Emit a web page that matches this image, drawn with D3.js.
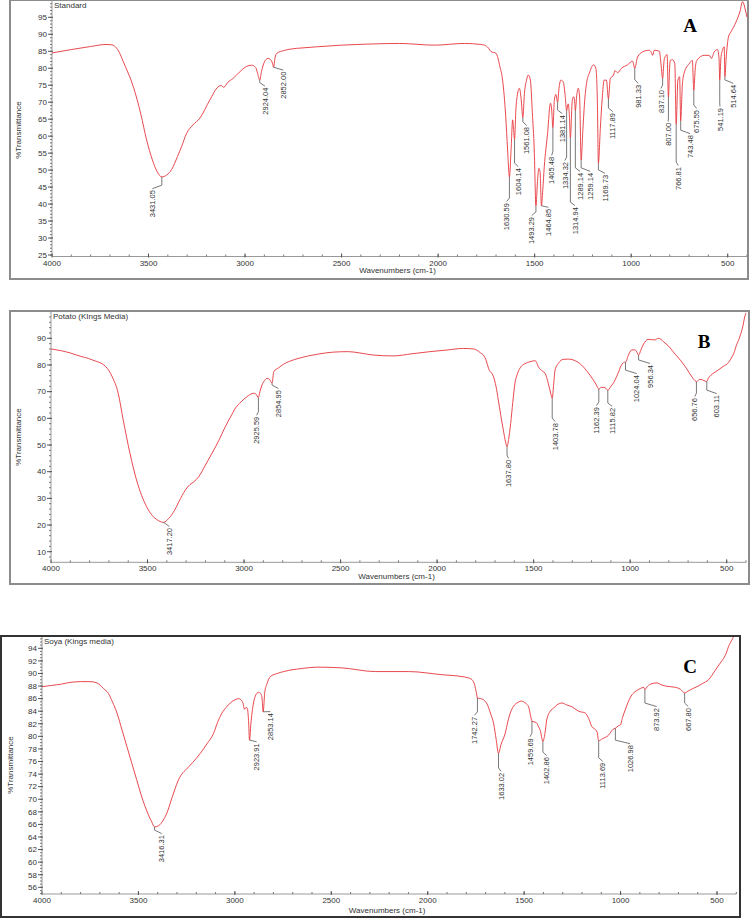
<!DOCTYPE html>
<html>
<head>
<meta charset="utf-8">
<script src="https://cdn.jsdelivr.net/npm/d3@7"></script>
<style>
body{margin:0;background:#fff;}
svg{display:block;font-family:"Liberation Sans",Arial,sans-serif;}
</style>
</head>
<body>
<svg id="chart" width="750" height="918"></svg>
<script>
// FTIR spectra, [wavenumber cm-1, %T]
var specA = [[4000,84.5],[3900,85.5],[3800,86.4],[3720,87],[3690,86.9],[3665,85.9],[3620,80.5],[3579,74.6],[3540,66.5],[3510,58.9],[3480,53],[3455,49.5],[3431.05,48],[3405,48.6],[3380,50.2],[3350,54],[3329,56.9],[3303,60.8],[3270,63.3],[3234,65.3],[3183,70.6],[3140,74.5],[3125,74.9],[3110,74.4],[3090,75.8],[3062,77],[3030,78.8],[2993,80.5],[2965,80.9],[2945,80.2],[2935,78.5],[2924.04,76.5],[2915,79],[2900,81.8],[2881,82.9],[2866,82.4],[2858,81.5],[2852,80.3],[2845,83],[2835,84.4],[2800,85.2],[2769,85.6],[2700,86],[2631,86.3],[2500,86.8],[2372,87.1],[2200,87.3],[2019,86.8],[1864,87.3],[1780,87],[1760,86.8],[1740,86],[1726,84.9],[1700,84.4],[1680,80.5],[1666,76.5],[1650,66],[1640,55.9],[1630.59,48],[1622,56],[1614,64.8],[1609,62],[1604.14,59],[1597,68],[1591,71.6],[1579,74.1],[1570,71],[1561.08,65.5],[1553,72.5],[1542,76.5],[1533,78],[1522,76.5],[1512,67],[1502,55.9],[1493.29,39.5],[1485,47],[1478,50.5],[1472,49.5],[1464.85,39.5],[1458,44],[1450,51],[1433,60.8],[1418,69.7],[1412,68],[1405.48,62.5],[1398,70.5],[1390,72.3],[1381.14,70],[1373,74.5],[1364,76.5],[1352,76],[1342,72],[1334.32,67.5],[1326,69.5],[1320,66],[1314.94,59.5],[1305,70.5],[1298,71.6],[1294,71],[1289.14,67.5],[1282,72],[1274,74.1],[1267,71.5],[1259.14,53],[1250,62],[1240,71],[1230,76],[1217,78.5],[1195,81],[1183,80],[1175,70],[1169.73,52],[1160,62],[1150,71],[1140,76.5],[1128,76.5],[1117.89,71],[1108,77],[1091,78],[1084,79.3],[1070,78.7],[1050,80],[1019,81],[993,82.1],[981.33,80],[967,83.3],[941,84.8],[907,85.3],[895,84.6],[889,83.8],[880,85.3],[854,85],[845,81],[837.1,77],[830,82],[827,83],[814,84],[807,71.5],[800,81],[797,82.3],[785,82.5],[774,81.3],[766.81,63.5],[758,76.5],[749,77.5],[743.48,64.5],[735,75],[726,78.5],[700,81.3],[683,82.3],[675.55,73.5],[668,80],[660,82.3],[622,83.8],[596,83.8],[584,82.9],[570,84.8],[553,85.5],[545,83],[541.19,76.5],[535,83],[527,85.3],[518,86.3],[514.64,77.5],[508,83],[496,89.2],[483,90.7],[457,93.6],[435,97],[424,99.6],[418,99.2],[412,98],[400,95]];

var specB = [[4000,86],[3900,84.5],[3867,83.7],[3786,81.9],[3717,79.4],[3683,75.6],[3652,69.4],[3626,59.4],[3591,46.9],[3557,36.9],[3530,31],[3505,26.9],[3475,23.5],[3453,22.1],[3417.2,21],[3390,22.5],[3360,25.5],[3338,28.7],[3304,33.1],[3280,35.2],[3260,36.2],[3235,38.1],[3200,42.5],[3166,46.9],[3130,51.8],[3097,56.9],[3070,60.5],[3045,63.8],[3015,66.2],[2985,68.1],[2950,69.4],[2940,69.2],[2925.59,67.8],[2918,70],[2907,72.5],[2892,74.3],[2881,75],[2868,74.6],[2854.95,73.2],[2846,77.5],[2820,79],[2802,80],[2760,81.5],[2717,82.5],[2614,84.1],[2540,84.8],[2459,85],[2400,84.5],[2329,83.7],[2226,83.4],[2130,84.2],[2036,85],[1950,85.6],[1864,86.2],[1810,86],[1795,85.6],[1775,84.5],[1760,83.7],[1745,81.5],[1734,78.8],[1708,75.6],[1695,72],[1683,66.9],[1670,61],[1657,55.6],[1645,51],[1637.8,49.3],[1630,52],[1619,58.1],[1608,66],[1597,73.1],[1585,76.5],[1571,78.8],[1545,80.5],[1519,81.2],[1493,81.6],[1485,81],[1476,79.4],[1460,78],[1441,76.9],[1424,73.1],[1412,69.5],[1403.78,67.5],[1396,73],[1389,78.1],[1370,80.8],[1347,82.1],[1320,82.2],[1295,81.9],[1270,81],[1252,80],[1220,77.3],[1191,74.4],[1175,72.5],[1162.39,71],[1150,71.6],[1136,71.6],[1125,71.2],[1115.82,70.5],[1100,72],[1088,73.1],[1065,76.5],[1045,80],[1030,81],[1024.04,81],[1010,83.5],[993,85.6],[976,85.7],[965,84.8],[956.34,83.7],[945,85.5],[933,87.5],[907,89.6],[872,89.4],[855,90],[840,89.6],[829,88.8],[800,87],[778,85],[740,81.8],[709,78.8],[680,75.5],[659,73.8],[656.76,73.7],[640,74.6],[625,74.4],[610,73.9],[603.11,73.8],[595,75],[581,76.2],[550,77.8],[519,79.4],[490,81],[477,82.5],[460,85],[452,86.9],[435,90],[417,94.3],[405,98.5],[400,99.5]];

var specC = [[4000,87.9],[3950,88.1],[3900,88.3],[3870,88.5],[3801,88.7],[3750,88.7],[3715,88.5],[3681,87.6],[3655,86.8],[3635,85.5],[3611,83.7],[3585,81],[3560,78.4],[3535,75.8],[3509,73.1],[3487,70.8],[3465,68.8],[3445,67.3],[3431,66.4],[3416.31,65.6],[3395,65.8],[3371,66.7],[3350,68],[3335,69.4],[3312,71.5],[3292,73.1],[3270,74.2],[3257,74.6],[3220,75.8],[3179,77.3],[3145,78.8],[3110,80.5],[3090,82.2],[3067,83.7],[3045,84.6],[3024,85.3],[3000,85.8],[2981,86],[2965,85.7],[2958,85.3],[2950,84.3],[2942,84.6],[2935,84.4],[2929,82.5],[2923.91,79.4],[2917,82],[2905,85],[2894,86.4],[2877,87],[2866,86.8],[2860,86.3],[2853.14,83.9],[2845,87],[2833,88.4],[2816,89.5],[2780,90],[2747,90.3],[2650,90.8],[2574,91],[2450,90.9],[2272,90.3],[2099,90.3],[1926,89.8],[1822,89.5],[1790,89.3],[1770,89],[1757,88.2],[1748,87],[1742.27,86.1],[1725,86],[1710,85.8],[1690,85],[1675,83.7],[1658,82],[1645,79.5],[1633.02,77.3],[1620,78.7],[1598,80.5],[1585,82.3],[1572,83.7],[1555,84.8],[1537,85.3],[1515,85.6],[1503,85.5],[1490,85.2],[1477,84.7],[1468,83.5],[1459.69,82.4],[1437,82.2],[1425,81.5],[1417,81],[1402.86,79.2],[1392,80.5],[1383,82.6],[1365,84],[1347,84.5],[1330,85],[1304,85.3],[1280,85],[1252,84.7],[1218,84],[1183,83.7],[1165,82.8],[1148,81.5],[1135,81.2],[1122,80.7],[1113.69,79.3],[1095,79.6],[1062,80.2],[1040,81.1],[1026.98,81.3],[1010,81.7],[1001,81.8],[990,83],[976,84.2],[960,85.5],[941,86.6],[920,87.2],[898,87.6],[880,87.8],[873.92,87.4],[865,87.8],[845,88.3],[811,88.5],[790,88.2],[768,88],[716,87.8],[690,87.5],[667.8,86.9],[650,87.2],[625,87.6],[604,87.9],[575,88.4],[544,89],[509,90.5],[480,91.8],[466,92.4],[450,93.4],[440,94.3],[425,95.2],[414,95.9],[400,97]];

// peak labels: [wavenumber, %T at peak, label wavenumber, label top %T]
var peaksA = [[3431.05,48,3480,44.1],[2924.04,76.5,2897,74.3],[2852.00,80.3,2802,79.0],[1630.59,48,1645,40.3],[1604.14,59,1585,50.6],[1561.08,65.5,1541,62.7],[1493.29,39.5,1515,36.2],[1464.85,39.5,1429,38.6],[1405.48,62.5,1412,53.9],[1381.14,70,1357,66.2],[1334.32,67.5,1343,52.4],[1314.94,59.5,1291,39.1],[1289.14,67.5,1265,49.2],[1259.14,53,1213,49.2],[1169.73,52,1136,48.6],[1117.89,71,1096,66.8],[981.33,80,963,75.1],[837.10,77,846,73.6],[807.00,71.5,808,63.9],[766.81,63.5,756,50.9],[743.48,64.5,695,60.3],[675.55,73.5,661,67.7],[541.19,76.5,540,68.3],[514.64,77.5,471,75.1]];
var peaksB = [[3417.20,21,3387,18.9],[2925.59,67.8,2935,60.6],[2854.95,73.2,2822,70.6],[1637.80,49.3,1631,44.4],[1403.78,67.5,1389,58.2],[1162.39,71,1175,64.2],[1115.82,70.5,1093,63.9],[1024.04,81,966,76.2],[956.34,83.7,897,80],[656.76,73.7,665,67.6],[603.11,73.8,552,68.7]];
var peaksC = [[3416.31,65.6,3379,64.3],[2923.91,79.4,2887,78.9],[2853.14,83.9,2816,83.7],[1742.27,86.1,1758,83.1],[1633.02,77.3,1620,74.2],[1459.69,82.4,1470,79.7],[1402.86,79.2,1383,76.7],[1113.69,79.3,1093,75.8],[1026.98,81.3,951,78.6],[873.92,87.4,813,84.5],[667.80,86.9,649,84.5]];

var titles = ["Standard", "Potato (KIngs Media)", "Soya (Kings media)"];
var letters = ["A", "B", "C"];
var xMajor = [4000,3500,3000,2500,2000,1500,1000,500];
var yTicksA = [25,30,35,40,45,50,55,60,65,70,75,80,85,90,95];
var yTicksB = [10,20,30,40,50,60,70,80,90];
var yTicksC = [56,58,60,62,64,66,68,70,72,74,76,78,80,82,84,86,88,90,92,94];

var svg = d3.select("#chart");

var panels = [
  {spec:specA, peaks:peaksA, yTicks:yTicksA, minorStep:1, frame:[10,0,748,279], frameColor:"#8c8c8c",
   x0:52, x1:747, top:1, bottom:256.5, yDom:[25,95], yRng:[255,17.3], yLab:[18,130], letter:[690,32], xTitleY:273},
  {spec:specB, peaks:peaksB, yTicks:yTicksB, minorStep:2, frame:[10,311,749,584], frameColor:"#8c8c8c",
   x0:51, x1:746, top:312, bottom:562.3, yDom:[10,90], yRng:[551.7,338.3], yLab:[18,437], letter:[704,348], xTitleY:579},
  {spec:specC, peaks:peaksC, yTicks:yTicksC, minorStep:0.5, frame:[1,636,740,917], frameColor:"#333",
   x0:42, x1:736.3, top:637, bottom:894, yDom:[56,94], yRng:[887.3,648.3], yLab:[10,765], letter:[690,673], xTitleY:913}
];

panels.forEach(function(p, i){
  var g = svg.append("g");
  var f = p.frame;
  g.append("rect").attr("x", f[0]).attr("y", f[1]).attr("width", f[2]-f[0]).attr("height", f[3]-f[1])
    .attr("fill", "#fff").attr("stroke", p.frameColor).attr("stroke-width", 2);

  var x = d3.scaleLinear().domain([4000, 400]).range([p.x0, p.x1]);
  var y = d3.scaleLinear().domain(p.yDom).range(p.yRng);

  // x axis
  var xMinor = d3.range(4000, 399, -100);
  g.append("line").attr("x1", p.x0).attr("x2", p.x1).attr("y1", p.bottom).attr("y2", p.bottom)
    .attr("stroke", "#999").attr("stroke-width", 1);
  g.selectAll(".xmin").data(xMinor).enter().append("line")
    .attr("x1", d => x(d)).attr("x2", d => x(d)).attr("y1", p.bottom).attr("y2", p.bottom-2)
    .attr("stroke", "#777").attr("stroke-width", 1);
  g.selectAll(".xmaj").data(xMajor).enter().append("line")
    .attr("x1", d => x(d)).attr("x2", d => x(d)).attr("y1", p.bottom+1).attr("y2", p.bottom-3)
    .attr("stroke", "#555").attr("stroke-width", 1);
  g.selectAll(".xlab").data(xMajor).enter().append("text")
    .attr("x", d => x(d)).attr("y", p.bottom+9).attr("text-anchor", "middle")
    .attr("font-size", 8).attr("fill", "#333").text(d => d);
  g.append("text").attr("x", (p.x0+p.x1)/2 - 2).attr("y", p.xTitleY).attr("text-anchor", "middle")
    .attr("font-size", 8).attr("fill", "#333").text("Wavenumbers (cm-1)");

  // y axis
  var yMinor = d3.range(p.yDom[0] - 2*p.minorStep, 100.01, p.minorStep)
    .filter(v => y(v) >= p.top && y(v) <= p.bottom);
  g.append("line").attr("x1", p.x0).attr("x2", p.x0).attr("y1", p.top).attr("y2", p.bottom)
    .attr("stroke", "#999").attr("stroke-width", 1);
  g.selectAll(".ymin").data(yMinor).enter().append("line")
    .attr("x1", p.x0).attr("x2", p.x0-2).attr("y1", d => y(d)).attr("y2", d => y(d))
    .attr("stroke", "#777").attr("stroke-width", 1);
  g.selectAll(".ymaj").data(p.yTicks).enter().append("line")
    .attr("x1", p.x0+1).attr("x2", p.x0-4).attr("y1", d => y(d)).attr("y2", d => y(d))
    .attr("stroke", "#555").attr("stroke-width", 1);
  g.selectAll(".ylab").data(p.yTicks).enter().append("text")
    .attr("x", p.x0-5).attr("y", d => y(d)).attr("dy", "0.35em").attr("text-anchor", "end")
    .attr("font-size", 8).attr("fill", "#333").text(d => d);
  g.append("text").attr("transform", "translate(" + p.yLab[0] + "," + p.yLab[1] + ") rotate(-90)")
    .attr("text-anchor", "middle").attr("dy", "0.35em").attr("font-size", 8).attr("fill", "#333")
    .text("%Transmittance");

  g.append("text").attr("x", p.x0+2).attr("y", p.top+7).attr("font-size", 8).attr("fill", "#333").text(titles[i]);

  // spectrum
  var clipId = "clip" + i;
  svg.append("clipPath").attr("id", clipId).append("rect")
    .attr("x", p.x0).attr("y", p.top).attr("width", p.x1-p.x0+1).attr("height", p.bottom-p.top);
  var line = d3.line().x(d => x(d[0])).y(d => y(d[1])).curve(d3.curveMonotoneX);
  g.append("path").datum(p.spec).attr("clip-path", "url(#" + clipId + ")")
    .attr("d", line).attr("fill", "none").attr("stroke", "#e5343a").attr("stroke-width", 0.9);

  // peak labels
  p.peaks.forEach(function(k){
    var px = x(k[0]), py = y(k[1]), lx = x(k[2]), ly = y(k[3]);
    var path = "M" + px + "," + py;
    if (ly - 5 > py + 1) path += "V" + (ly - 5);
    path += "L" + lx + "," + (ly - 1.5);
    g.append("path").attr("d", path).attr("fill", "none").attr("stroke", "#555").attr("stroke-width", 0.8);
    g.append("text").attr("transform", "translate(" + lx + "," + ly + ") rotate(-90)")
      .attr("text-anchor", "end").attr("dy", "0.35em").attr("font-size", 7.5).attr("fill", "#333")
      .text(k[0].toFixed(2));
  });

  g.append("text").attr("x", p.letter[0]).attr("y", p.letter[1]).attr("text-anchor", "middle")
    .attr("font-family", "Liberation Serif, Times New Roman, serif").attr("font-weight", "bold")
    .attr("font-size", 19).attr("fill", "#000").text(letters[i]);
});
</script>
</body>
</html>
